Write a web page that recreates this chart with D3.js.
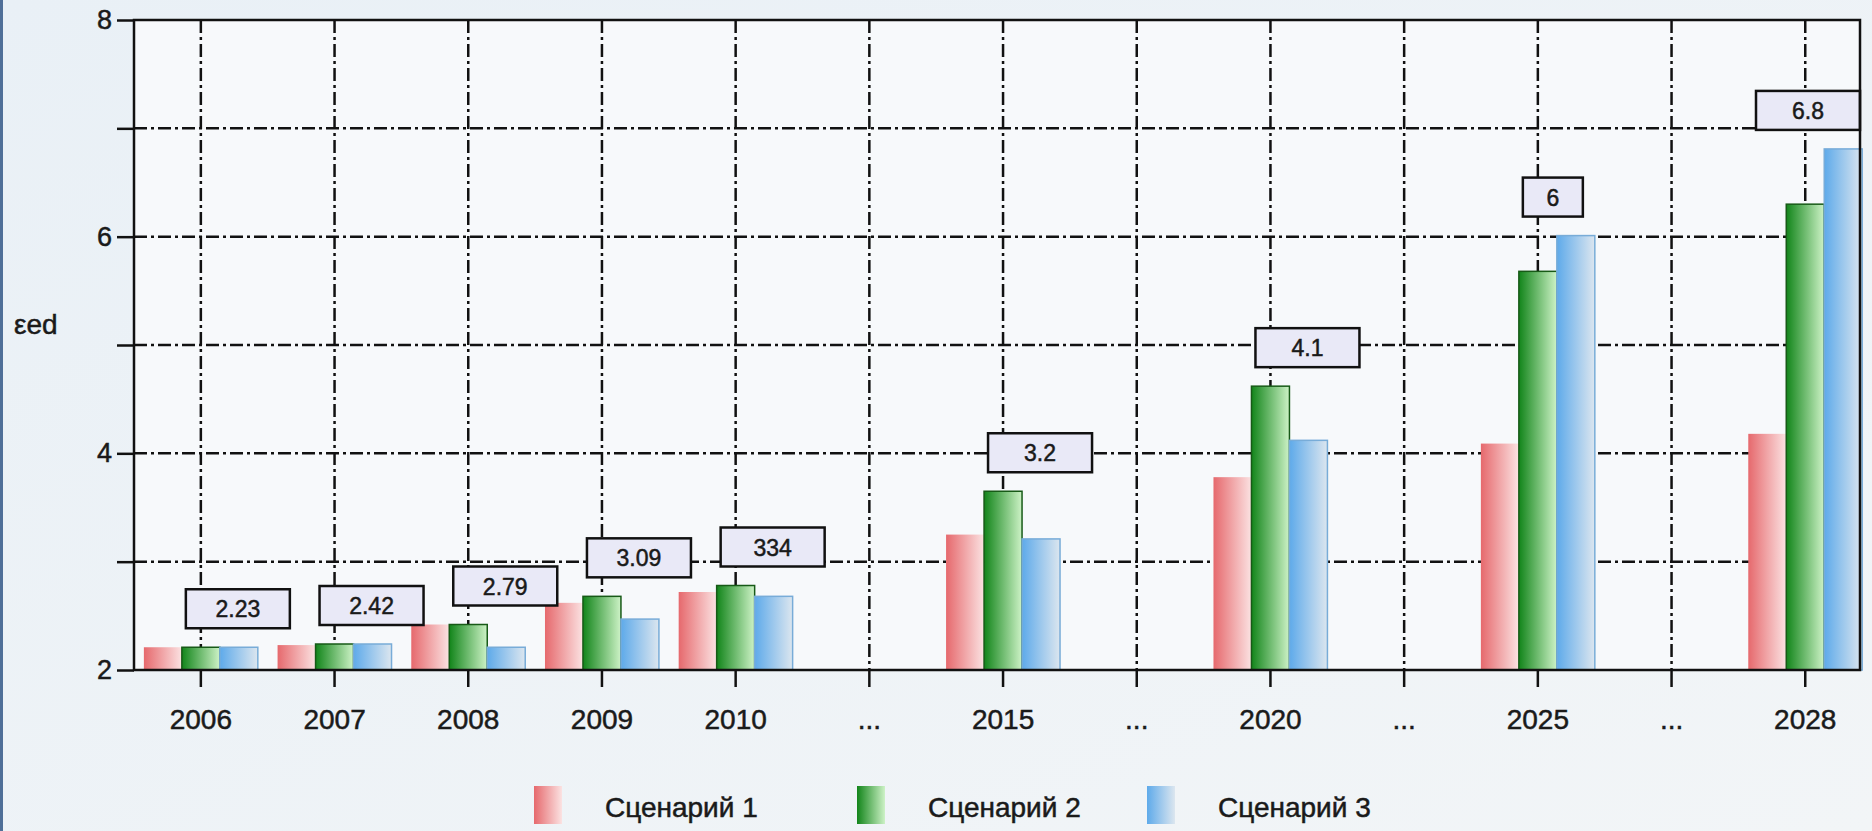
<!DOCTYPE html>
<html>
<head>
<meta charset="utf-8">
<script src="https://cdn.jsdelivr.net/npm/d3@7"></script>
<style>
  body { margin: 0; background: #eef3f7; }
  svg { display: block; }
  text { font-family: "Liberation Sans", Arial, sans-serif; fill: #1a1a1a; stroke: #1a1a1a; stroke-width: 0.5px; }
</style>
</head>
<body>
<div id="chart-area"></div>
<script>
// data
const categories = ["2006", "2007", "2008", "2009", "2010", "...", "2015", "...", "2020", "...", "2025", "...", "2028"]
const scenario1 = [2.21, 2.23, 2.42, 2.62, 2.72, null, 3.25, null, 3.78, null, 4.09, null, 4.18]
const scenario2 = [2.21, 2.24, 2.42, 2.68, 2.78, null, 3.65, null, 4.62, null, 5.68, null, 6.30]
const scenario3 = [2.21, 2.24, 2.21, 2.47, 2.68, null, 3.21, null, 4.12, null, 6.01, null, 6.81]
const boxLabels = ["2.23", "2.42", "2.79", "3.09", "334", null, "3.2", null, "4.1", null, "6", null, "6.8"]
const seriesNames = ["Сценарий 1", "Сценарий 2", "Сценарий 3"]
const yTicks = [2, 3, 4, 5, 6, 7, 8]
const yTitle = "εed"

const W = 1872, H = 831
const PLOT = { LEFT: 134, TOP: 20, RIGHT: 1860, BOTTOM: 670 }
const STEP = 133.7

const svg = d3.select("#chart-area").append("svg")
  .attr("width", W)
  .attr("height", H)

const defs = svg.append("defs")

// background gradient
const bg = defs.append("linearGradient").attr("id", "bg")
  .attr("x1", 0).attr("y1", 0).attr("x2", 1).attr("y2", 1)
bg.append("stop").attr("offset", 0).attr("stop-color", "#e9f0f6")
bg.append("stop").attr("offset", 1).attr("stop-color", "#f2f5f7")

const fills = [
  { id: "g0", from: "#e6696d", to: "#fbe2e2", stroke: "none" },
  { id: "g1", from: "#12851a", to: "#cdf2c6", stroke: "#175a17" },
  { id: "g2", from: "#5eaaea", to: "#dce6ef", stroke: "#78acd8" }
]
fills.forEach(f => {
  const lg = defs.append("linearGradient").attr("id", f.id)
    .attr("x1", 0).attr("y1", 0).attr("x2", 1).attr("y2", 0)
  lg.append("stop").attr("offset", 0).attr("stop-color", f.from)
  lg.append("stop").attr("offset", 1).attr("stop-color", f.to)
})

svg.append("rect")
  .attr("width", W).attr("height", H)
  .attr("fill", "url(#bg)")

// left window border
svg.append("rect")
  .attr("x", 0).attr("y", 0).attr("width", 3).attr("height", H)
  .attr("fill", "#4f6f98")

// plot background
svg.append("rect")
  .attr("x", PLOT.LEFT).attr("y", PLOT.TOP)
  .attr("width", PLOT.RIGHT - PLOT.LEFT).attr("height", PLOT.BOTTOM - PLOT.TOP)
  .attr("fill", "#f7f9fb")

const idx = d3.range(categories.length)

const x = d3.scaleBand()
  .domain(idx)
  .range([PLOT.LEFT, PLOT.LEFT + STEP * categories.length])

const xs = d3.scaleBand()
  .domain([0, 1, 2])
  .range([0, x.bandwidth()])
  .paddingInner(0)
  .paddingOuter(0.26)

const y = d3.scaleLinear()
  .domain([2, 8])
  .range([PLOT.BOTTOM, PLOT.TOP])

const DASH = "13,4,3,4"

// horizontal grid
svg.append("g").selectAll("line")
  .data(yTicks.filter(d => d > 2 && d < 8))
  .join("line")
    .attr("x1", PLOT.LEFT).attr("x2", PLOT.RIGHT)
    .attr("y1", d => y(d)).attr("y2", d => y(d))
    .attr("stroke", "#111").attr("stroke-width", 2.5)
    .attr("stroke-dasharray", DASH)

// vertical grid
svg.append("g").selectAll("line")
  .data(idx)
  .join("line")
    .attr("x1", d => x(d) + x.bandwidth() / 2).attr("x2", d => x(d) + x.bandwidth() / 2)
    .attr("y1", PLOT.TOP).attr("y2", PLOT.BOTTOM)
    .attr("stroke", "#111").attr("stroke-width", 2.5)
    .attr("stroke-dasharray", DASH)

// bars
const series = [scenario1, scenario2, scenario3]
series.forEach((vals, s) => {
  svg.append("g").selectAll("rect")
    .data(idx.filter(i => vals[i] != null))
    .join("rect")
      .attr("x", i => x(i) + xs(s))
      .attr("y", i => y(vals[i]))
      .attr("width", xs.bandwidth())
      .attr("height", i => y(2) - y(vals[i]))
      .attr("fill", `url(#${fills[s].id})`)
      .attr("stroke", fills[s].stroke)
      .attr("stroke-width", 1.5)
})

// value boxes
const boxW = i => boxLabels[i].length > 1 ? 104 : 60
const boxes = svg.append("g").selectAll("g")
  .data(idx.filter(i => boxLabels[i] != null))
  .join("g")
  .attr("transform", i => {
    let left = x(i) + x.bandwidth() / 2 - 15
    if (left + boxW(i) > PLOT.RIGHT) left = PLOT.RIGHT - boxW(i)
    const top = y(d3.max(series, v => v[i])) - 19 - 39
    return `translate(${left}, ${top})`
  })

boxes.append("rect")
  .attr("width", boxW)
  .attr("height", 39)
  .attr("fill", "#e9e9f7")
  .attr("stroke", "#111")
  .attr("stroke-width", 2.5)

boxes.append("text")
  .attr("x", i => boxW(i) / 2)
  .attr("y", 28)
  .attr("text-anchor", "middle")
  .attr("font-size", "23px")
  .text(i => boxLabels[i])

// axes
const xAxisCall = d3.axisBottom(x)
  .tickSize(17)
  .tickFormat(i => categories[i])
const xAxisGroup = svg.append("g")
  .attr("transform", `translate(0, ${PLOT.BOTTOM})`)
  .call(xAxisCall)
xAxisGroup.select(".domain").remove()
xAxisGroup.selectAll("line").attr("stroke", "#111").attr("stroke-width", 2.5)
xAxisGroup.selectAll("text")
  .attr("y", 39)
  .attr("dy", "0.71em")
  .attr("font-size", "28px")
  .attr("fill", "#1a1a1a")

const yAxisCall = d3.axisLeft(y)
  .tickValues(yTicks)
  .tickSize(17)
  .tickFormat(d => d % 2 === 0 ? d : "")
const yAxisGroup = svg.append("g")
  .attr("transform", `translate(${PLOT.LEFT}, 0)`)
  .call(yAxisCall)
yAxisGroup.select(".domain").remove()
yAxisGroup.selectAll("line").attr("stroke", "#111").attr("stroke-width", 2.5)
yAxisGroup.selectAll("text")
  .attr("x", -22)
  .attr("font-size", "27px")
  .attr("fill", "#1a1a1a")

// frame
svg.append("rect")
  .attr("x", PLOT.LEFT).attr("y", PLOT.TOP)
  .attr("width", PLOT.RIGHT - PLOT.LEFT).attr("height", PLOT.BOTTOM - PLOT.TOP)
  .attr("fill", "none")
  .attr("stroke", "#111")
  .attr("stroke-width", 2.5)

// y title
svg.append("text")
  .attr("x", 14)
  .attr("y", 334)
  .attr("font-size", "28px")
  .text(yTitle)

// legend
const LEGEND_X = [534, 857, 1147]
const legend = svg.append("g").selectAll("g")
  .data(seriesNames)
  .join("g")
  .attr("transform", (d, i) => `translate(${LEGEND_X[i]}, 786)`)

legend.append("rect")
  .attr("width", 28).attr("height", 38)
  .attr("fill", (d, i) => `url(#${fills[i].id})`)

legend.append("text")
  .attr("x", 71)
  .attr("y", 31)
  .attr("font-size", "28px")
  .text(d => d)
</script>
</body>
</html>
